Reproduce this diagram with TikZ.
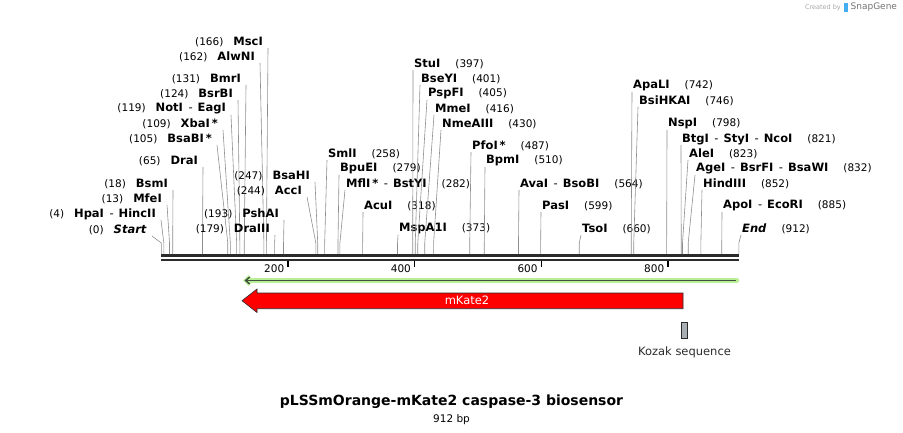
\documentclass[tikz,border=0pt]{standalone}
\usepackage{fontspec}
\setmainfont{DejaVu Sans}
\usetikzlibrary{positioning, arrows.meta}
\definecolor{leadgray}{HTML}{8E8E8E}
\definecolor{mapblack}{HTML}{2B2B2B}
\definecolor{orfgreen}{HTML}{B9F096}
\definecolor{orfdark}{HTML}{43503F}
\definecolor{kozakgray}{HTML}{A9AEB5}
\definecolor{snapblue}{HTML}{45AEF2}
\tikzstyle{cutname} = [font=\fontsize{11.5}{13}\selectfont\bfseries,
    inner sep=0pt, text=black]
\tikzstyle{leader} = [draw=leadgray, line width=0.6pt]
\tikzstyle{backbone} = [draw=mapblack, line width=2.6pt]
\tikzstyle{tickmark} = [draw=black, line width=1.4pt]
\tikzstyle{ticklabel} = [font=\fontsize{10.5}{12}\selectfont, inner sep=0pt]
\newcommand{\sitepos}[1]{{\normalfont\fontsize{10.5}{12}\selectfont(#1)}}
\newcommand{\sep}{\hspace{5.5pt}{\normalfont-}\hspace{5pt}}

\begin{document}
\begin{tikzpicture}[x=1pt, y=-1pt]
    \useasboundingbox (0,0) rectangle (903,433);

    % sequence backbone
    \coordinate (bbstart) at (161.3,255.5);
    \coordinate (bbend) at (738.9,255.5);
    \draw[backbone] (bbstart) -- (bbend);
    \draw[backbone] ([yshift=-4.4pt]bbstart) -- ([yshift=-4.4pt]bbend);

    % ruler
    \foreach \t in {200,400,600,800} {
        \pgfmathsetmacro\tx{161.3+0.6333*\t}
        \coordinate (tick\t a) at (\tx,260.5);
        \coordinate (tick\t b) at (\tx,267);
        \draw[tickmark] (tick\t a) -- (tick\t b);
        \node[ticklabel, anchor=east] (ticklab\t) at (\tx-3.5,268.5) {\t};
    }

    % cut sites, labels on the left
    \foreach \nm/\bp/\ly/\lx/\txt in {
        start/0/230/152/{\sitepos{0}\hspace{10pt}\textit{Start}},
        hpai/4/214/161/{\sitepos{4}\hspace{10pt}HpaI\sep HincII},
        mfei/13/199/167/{\sitepos{13}\hspace{10pt}MfeI},
        bsmi/18/184/173/{\sitepos{18}\hspace{10pt}BsmI},
        drai/65/161/203/{\sitepos{65}\hspace{10pt}DraI},
        bsabi/105/139/217/{\sitepos{105}\hspace{10pt}BsaBI\,*},
        xbai/109/124/223/{\sitepos{109}\hspace{10pt}XbaI\,*},
        noti/119/109/231/{\sitepos{119}\hspace{10pt}NotI\sep EagI},
        bsrbi/124/94/238/{\sitepos{124}\hspace{10pt}BsrBI},
        bmri/131/79/246/{\sitepos{131}\hspace{10pt}BmrI},
        alwni/162/57/260/{\sitepos{162}\hspace{10pt}AlwNI},
        msci/166/42/268/{\sitepos{166}\hspace{10pt}MscI},
        draiii/179/229/275/{\sitepos{179}\hspace{10pt}DraIII},
        pshai/193/214/284/{\sitepos{193}\hspace{10pt}PshAI},
        acci/244/191/307/{\sitepos{244}\hspace{10pt}AccI},
        bsahi/247/176/315/{\sitepos{247}\hspace{10pt}BsaHI}%
    } {
        \pgfmathsetmacro\bx{161.3+0.6333*\bp}
        \node[cutname, anchor=east] (\nm) at (\lx-5,\ly) {\txt};
        \coordinate (\nm top) at (\lx,\ly+6);
        \coordinate (\nm kink) at (\bx,243);
        \coordinate (\nm site) at (\bx,254);
        \draw[leader] (\nm top) -- (\nm kink) -- (\nm site);
    }

    % cut sites, labels on the right
    \foreach \nm/\bp/\ly/\lx/\txt in {
        smli/258/154/327/{SmlI\hspace{15pt}\sitepos{258}},
        bpuei/279/169/339/{BpuEI\hspace{15pt}\sitepos{279}},
        mfli/282/184/345/{MflI\,*\sep BstYI\hspace{15pt}\sitepos{282}},
        acui/318/206/363/{AcuI\hspace{15pt}\sitepos{318}},
        mspai/373/229/398/{MspA1I\hspace{15pt}\sitepos{373}},
        stui/397/64/413/{StuI\hspace{15pt}\sitepos{397}},
        bseyi/401/79/420/{BseYI\hspace{15pt}\sitepos{401}},
        pspfi/405/94/427/{PspFI\hspace{15pt}\sitepos{405}},
        mmei/416/109/434/{MmeI\hspace{15pt}\sitepos{416}},
        nmeaiii/430/124/441/{NmeAIII\hspace{15pt}\sitepos{430}},
        pfoi/487/146/471/{PfoI\,*\hspace{15pt}\sitepos{487}},
        bpmi/510/161/485/{BpmI\hspace{15pt}\sitepos{510}},
        avai/564/184/519/{AvaI\sep BsoBI\hspace{15pt}\sitepos{564}},
        pasi/599/206/541/{PasI\hspace{15pt}\sitepos{599}},
        tsoi/660/229/581/{TsoI\hspace{15pt}\sitepos{660}},
        apali/742/86/632/{ApaLI\hspace{15pt}\sitepos{742}},
        bsihkai/746/101/638/{BsiHKAI\hspace{15pt}\sitepos{746}},
        nspi/798/124/667/{NspI\hspace{15pt}\sitepos{798}},
        btgi/821/139/681/{BtgI\sep StyI\sep NcoI\hspace{15pt}\sitepos{821}},
        alei/823/154/688/{AleI\hspace{15pt}\sitepos{823}},
        agei/832/169/695/{AgeI\sep BsrFI\sep BsaWI\hspace{15pt}\sitepos{832}},
        hindiii/852/184/702/{HindIII\hspace{15pt}\sitepos{852}},
        apoi/885/206/722/{ApoI\sep EcoRI\hspace{15pt}\sitepos{885}},
        end/912/229/741/{\textit{End}\hspace{15pt}\sitepos{912}}%
    } {
        \pgfmathsetmacro\bx{161.3+0.6333*\bp}
        \node[cutname, anchor=west] (\nm) at (\lx+1,\ly) {\txt};
        \coordinate (\nm top) at (\lx,\ly+6);
        \coordinate (\nm kink) at (\bx,243);
        \coordinate (\nm site) at (\bx,254);
        \draw[leader] (\nm top) -- (\nm kink) -- (\nm site);
    }

    % open reading frame
    \coordinate (orfright) at (737,280.5);
    \coordinate (orfleft) at (243,280.5);
    \draw[orfgreen, line width=4.5pt, line cap=round,
        -{Straight Barb[length=4pt, width=8pt, line width=4pt]}]
        (orfright) -- (orfleft);
    \draw[orfdark, line width=1.5pt,
        -{Straight Barb[length=4pt, width=7pt, line width=1.5pt]}]
        ([xshift=-1pt]orfright) -- ([xshift=1.5pt]orfleft);

    % feature
    \draw[draw=mapblack, line width=0.6pt, fill=red]
        (683,293) -- (257,293) -- (257,289) -- (242,300.7)
        -- (257,312.5) -- (257,308.7) -- (683,308.7) -- cycle;
    \node[font=\fontsize{11.5}{13}\selectfont, text=white, inner sep=0pt]
        (mkate) at (467,300.8) {mKate2};

    \node[
        draw=mapblack,
        fill=kozakgray,
        line width=0.6pt,
        minimum width=5.5pt,
        minimum height=16pt,
        inner sep=0pt
    ](kozak) at (684.5,330){};
    \node[
        below=8pt of kozak,
        font=\fontsize{11.5}{13}\selectfont,
        inner sep=0pt,
        text=mapblack
    ](kozaklab){Kozak sequence};

    % title
    \node[font=\fontsize{14}{16}\selectfont\bfseries, inner sep=0pt]
        (title) at (451.5,402) {pLSSmOrange-mKate2 caspase-3 biosensor};
    \node[font=\fontsize{10.5}{12}\selectfont, inner sep=0pt,
        below=5pt of title] (length) {912 bp};

    % credit
    \node[font=\fontsize{6.5}{8}\selectfont, text=black!35, inner sep=0pt,
        anchor=east] (credit) at (841,7.5) {Created by};
    \node[fill=snapblue, minimum width=4pt, minimum height=9pt,
        inner sep=0pt, right=3pt of credit] (logo) {};
    \node[font=\fontsize{9}{10}\selectfont, text=black!55, inner sep=0pt,
        right=2pt of logo] (snapgene) {SnapGene};
\end{tikzpicture}
\end{document}
